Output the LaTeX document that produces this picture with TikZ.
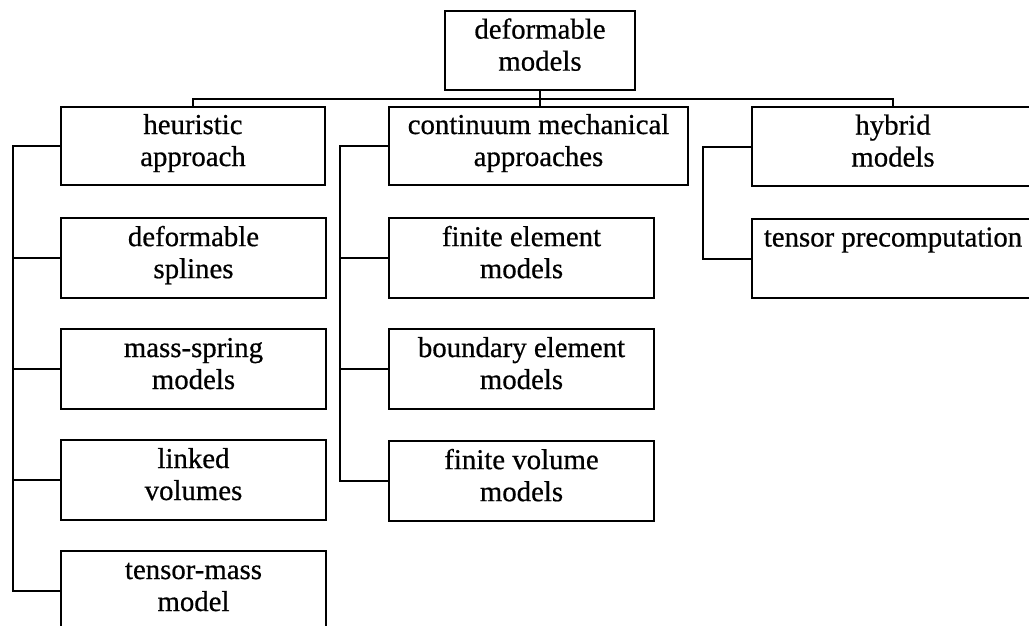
\documentclass[tikz,border=0pt]{standalone}
\usepackage{fontspec}
\setmainfont{Liberation Serif}
\newfontfamily\boxfont{Liberation Serif}[FakeBold=0.6]
\usetikzlibrary{calc}
% line strut: fixed height/depth so every box sets its lines alike
\newcommand{\ls}{\rule[-12pt]{0pt}{32pt}}
\begin{document}
\begin{tikzpicture}[x=1pt,y=-1pt,
  line width=2pt,
  box/.style={draw, rectangle, inner sep=0pt, anchor=north west,
    align=center, font=\boxfont\fontsize{28.8}{32}\selectfont},
  narrow/.style={box, minimum width=265pt, minimum height=80pt},
  link/.style={draw, line width=2pt}]
\useasboundingbox (0,0) rectangle (1029,625);

% root
\node[box, minimum width=190pt, minimum height=79pt] (root) at (444,10) {\ls deformable\\\ls models};

% first level
\node[box, minimum width=264pt, minimum height=78pt] (heur) at (60,106) {\ls heuristic\\\ls approach};
\node[box, minimum width=299pt, minimum height=78pt] (cont) at (388,106) {\ls continuum mechanical\\\ls approaches};
\node[box, minimum width=282pt, minimum height=79pt] (hyb) at (751,106) {\ls hybrid\\\ls models};

% heuristic branch
\node[narrow] (spl) at (60,217) {\ls deformable\\\ls splines};
\node[narrow] (ms)  at (60,328) {\ls mass-spring\\\ls models};
\node[narrow] (lv)  at (60,439) {\ls linked\\\ls volumes};
\node[narrow] (tm)  at (60,550) {\ls tensor-mass\\\ls model};

% continuum branch
\node[narrow] (fem) at (388,217) {\ls finite element\\\ls models};
\node[narrow] (bem) at (388,328) {\ls boundary element\\\ls models};
\node[narrow] (fvm) at (388,440) {\ls finite volume\\\ls models};

% hybrid branch
\node[box, minimum width=282pt, minimum height=79pt] (tp) at (751,218) {\ls tensor precomputation\\\ls};

% top bus
\coordinate (bus) at ($(root.south)+(0,8)$);
\draw[link] (root.south) -- (root.south |- cont.north);
\draw[link] (heur.north) |- (bus) -| (hyb.north);

% heuristic rail
\draw[link] (heur.west) -- ++(-47,0) |- (tm.west);
\foreach \n in {spl,ms,lv}
  \draw[link] (\n.west) -- ++(-47,0);

% continuum rail
\draw[link] (cont.west) -- ++(-48,0) |- (fvm.west);
\foreach \n in {fem,bem}
  \draw[link] (\n.west) -- ++(-48,0);

% hybrid rail
\draw[link] (hyb.west) -- ++(-48,0) |- (tp.west);
\end{tikzpicture}
\end{document}
